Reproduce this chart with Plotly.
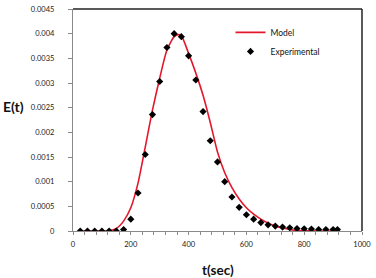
import plotly.graph_objects as go

t_exp = [25, 50, 75, 100, 125, 150, 175, 200, 225, 250, 275, 300, 325, 350, 375, 400,
         425, 450, 475, 500, 525, 550, 575, 600, 625, 650, 675, 700, 725, 750, 775,
         800, 825, 850, 875, 900, 915]
e_exp = [0, 0, 0, 0, 0, 0, 0.00003, 0.00024, 0.00077, 0.00155, 0.00236, 0.00303,
         0.00372, 0.0040, 0.00394, 0.00355, 0.00306, 0.00242, 0.00183, 0.0014, 0.0010,
         0.00069, 0.00048, 0.00033, 0.00024, 0.00017, 0.000125, 0.0001, 0.00008,
         0.000066, 0.00005, 0.000045, 0.00004, 0.00003, 0.00003, 0.00003, 0.00003]

# Model curve
t_model = [25, 100, 125, 150, 175, 200, 225, 250, 275, 300, 325, 350, 365, 375, 400,
           425, 450, 475, 500, 525, 550, 575, 600, 625, 650, 675, 700, 725, 750, 775,
           800, 850, 915]
e_model = [0, 0, 0.000005, 0.00005, 0.0002, 0.00047, 0.00097, 0.0017, 0.00245, 0.0031,
           0.00367, 0.00394, 0.00398, 0.00396, 0.0036, 0.0032, 0.00275, 0.0022, 0.0016,
           0.00118, 0.00088, 0.00065, 0.00047, 0.00034, 0.00024, 0.00016, 0.0001,
           0.00006, 0.00003, 0.000012, 0.000005, 0, 0]

x_ticks = [0, 200, 400, 600, 800, 1000]
y_ticks = [0, 0.0005, 0.001, 0.0015, 0.002, 0.0025, 0.003, 0.0035, 0.004, 0.0045]
y_labels = ["0", "0.0005", "0.001", "0.0015", "0.002", "0.0025", "0.003", "0.0035",
            "0.004", "0.0045"]

FONT = "Lato"

fig = go.Figure()
fig.add_trace(go.Scatter(x=t_model, y=e_model, mode="lines", name="Model",
                         line=dict(color="#e3182d", width=1.6, shape="spline", smoothing=0.6)))
fig.add_trace(go.Scatter(x=t_exp, y=e_exp, mode="markers", name="Experimental",
                         marker=dict(symbol="diamond", size=5.5, color="black")))

fig.update_layout(
    width=376, height=278,
    margin=dict(l=73, r=11, t=5, b=47),
    paper_bgcolor="white", plot_bgcolor="white",
    font=dict(family=FONT, size=7.5, color="#222"),
    showlegend=True,
    legend=dict(x=0.545, y=0.96, xanchor="left", yanchor="top",
                bgcolor="rgba(0,0,0,0)", font=dict(size=8.5, family=FONT, color="#111"),
                tracegroupgap=0, itemwidth=30),
    xaxis=dict(range=[0, 1000], tickvals=x_ticks, ticktext=[str(v) for v in x_ticks],
               showgrid=False, zeroline=False, showline=True, linecolor="#8a8a8a",
               linewidth=1.2, ticks="outside", ticklen=3, tickcolor="#8a8a8a",
               minor=dict(dtick=40, ticks="outside", ticklen=3, tickcolor="#8a8a8a"),
               tickfont=dict(size=7.5, family=FONT, color="#222"),
               ticklabelstandoff=3),
    yaxis=dict(range=[0, 0.0045], tickvals=y_ticks, ticktext=y_labels,
               showgrid=False, zeroline=False, showline=True, linecolor="#8a8a8a",
               linewidth=1.2, ticks="outside", ticklen=4, tickcolor="#8a8a8a",
               tickfont=dict(size=7.5, family=FONT, color="#222"),
               ticklabelstandoff=12),
    shapes=[
        dict(type="line", xref="paper", yref="paper", x0=0, x1=1, y0=1, y1=1,
             line=dict(color="#222", width=1.5)),
        dict(type="line", xref="paper", yref="paper", x0=1, x1=1, y0=0, y1=1,
             line=dict(color="#222", width=1.5)),
    ],
    annotations=[
        dict(text="<b>E(t)</b>", xref="paper", yref="paper", x=-0.207, y=0.56,
             xanchor="center", yanchor="middle", showarrow=False,
             font=dict(size=14, family=FONT, color="#111")),
        dict(text="<b>t(sec)</b>", xref="paper", yref="paper", x=0.5, y=-0.13,
             xanchor="center", yanchor="top", showarrow=False,
             font=dict(size=13.5, family=FONT, color="#111")),
    ],
)

fig.write_html("out.html", config={"displayModeBar": False},
               post_script="document.body.style.margin='0';document.body.style.padding='0';")
